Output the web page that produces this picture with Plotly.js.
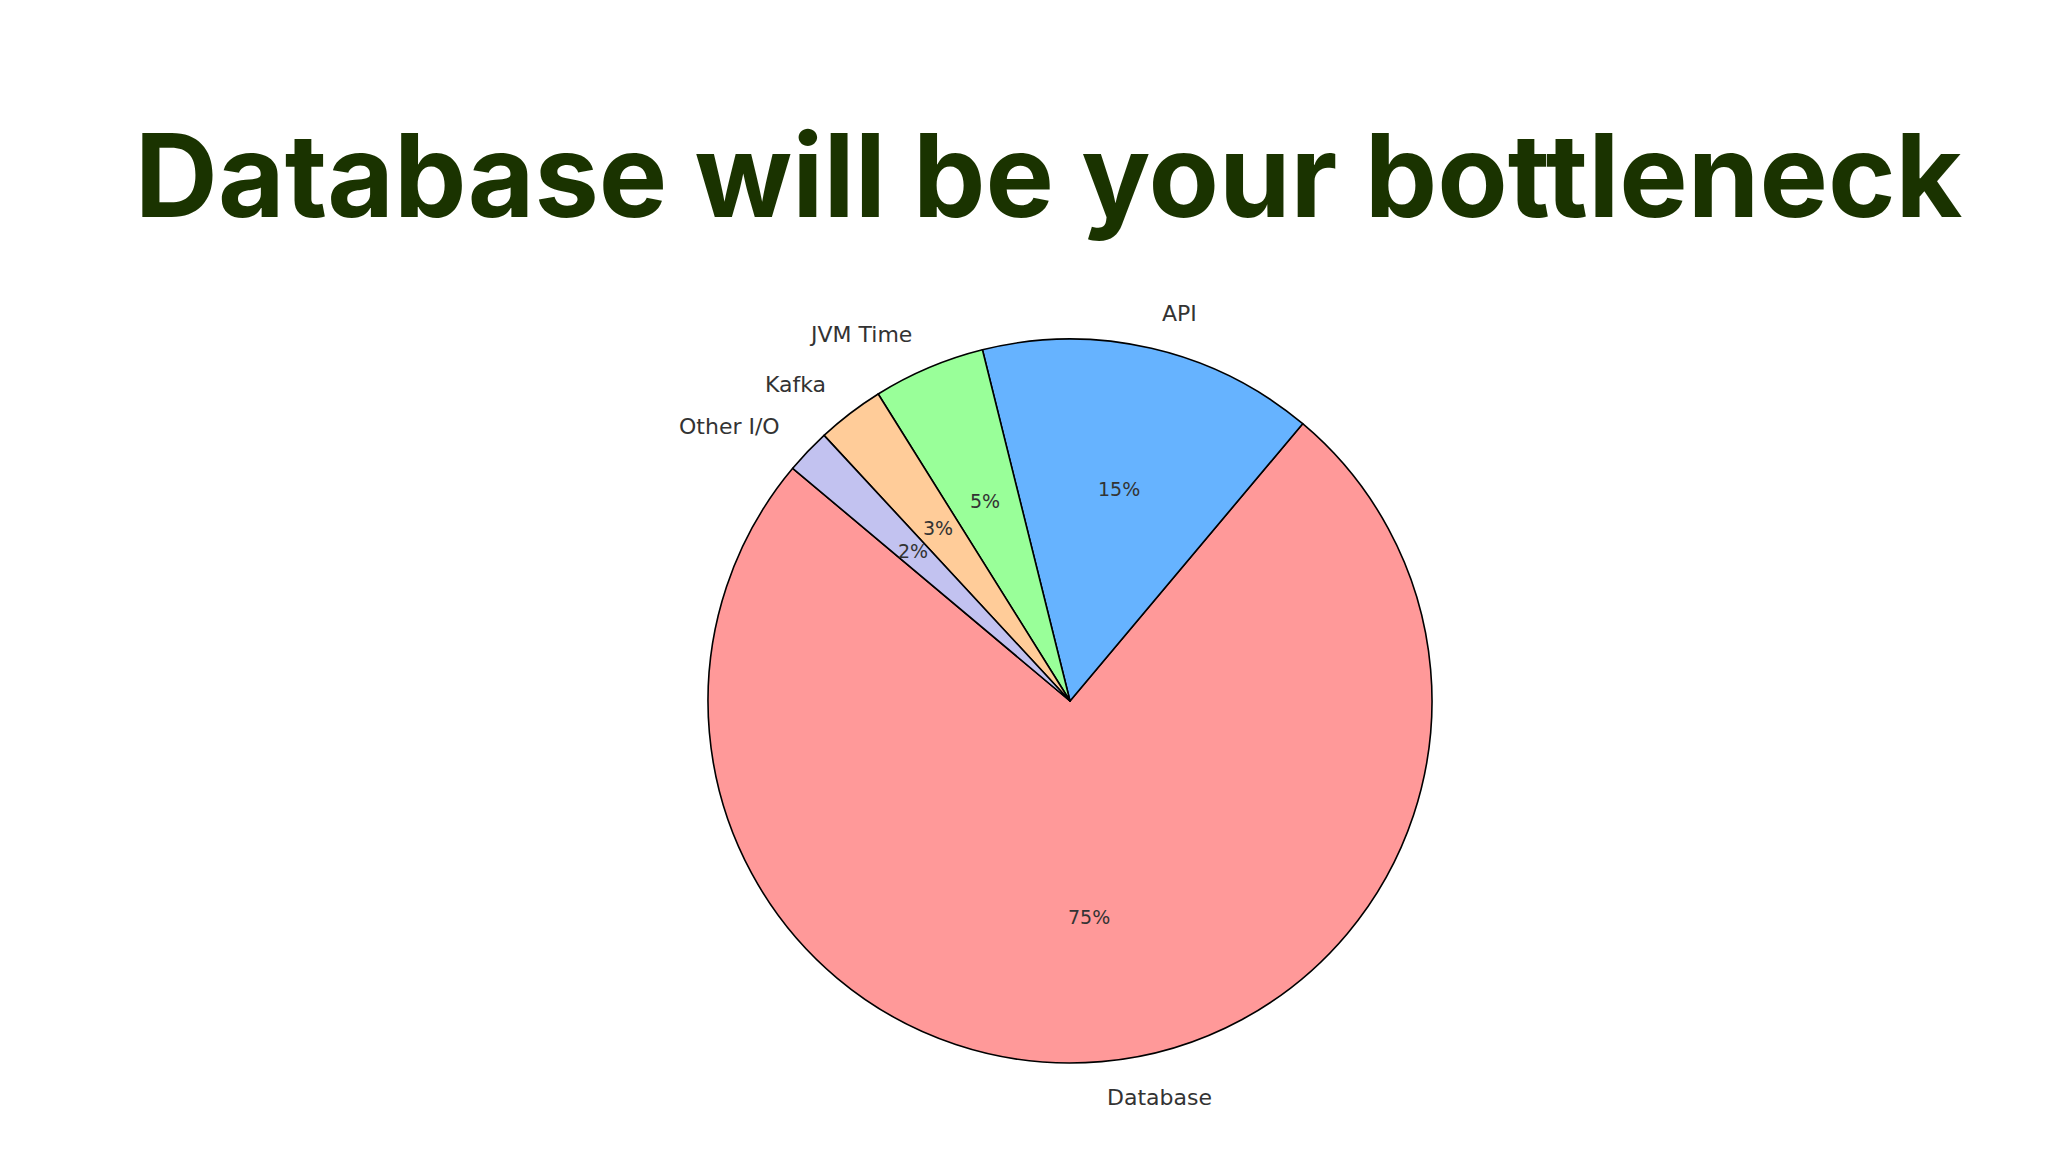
<!DOCTYPE html>
<html>
<head>
<meta charset="utf-8">
<script src="https://cdn.plot.ly/plotly-3.0.1.min.js"></script>
<style>html,body{margin:0;padding:0;background:#fff;}#chart{width:2048px;height:1152px;}</style>
</head>
<body>
<div id="chart"></div>
<script>
const categories = ["Database", "API", "JVM Time", "Kafka", "Other I/O"];
const shares = [75, 15, 5, 3, 2];
const pctLabels = ["75%", "15%", "5%", "3%", "2%"];
const sliceColors = ["#ff9999", "#66b3ff", "#99ff99", "#ffcc99", "#c2c2f0"];
const chartTitle = "Database will be your bottleneck";

const W = 2048, H = 1152;
const cx = 1070, cyTop = 701, R = 362;
const cyBottom = H - cyTop;
const startAngle = 140; // degrees, math convention, counterclockwise

const domainX = [(cx - R) / W, (cx + R) / W];
const domainY = [(cyBottom - R) / H, (cyBottom + R) / H];

const total = shares.reduce((a, b) => a + b, 0);
const annotations = [];
let cum = 0;
shares.forEach((v, i) => {
  const span = v / total * 360;
  const mid = (startAngle + cum + span / 2) * Math.PI / 180;
  cum += span;
  const c = Math.cos(mid), s = Math.sin(mid);
  annotations.push({
    xref: 'paper', yref: 'paper',
    x: (cx + 1.1 * R * c) / W, y: (cyBottom + 1.1 * R * s) / H,
    text: categories[i], showarrow: false,
    xanchor: c > 0 ? 'left' : 'right', yanchor: 'middle',
    font: {family: 'DejaVu Sans', size: 22, color: '#333333'}
  });
  annotations.push({
    xref: 'paper', yref: 'paper',
    x: (cx + 0.6 * R * c) / W, y: (cyBottom + 0.6 * R * s) / H,
    text: pctLabels[i], showarrow: false,
    xanchor: 'center', yanchor: 'middle',
    font: {family: 'DejaVu Sans', size: 19, color: '#333333'}
  });
});

// Plotly (counterclockwise) puts the end of the first slice at the rotation point
const firstEnd = (startAngle + shares[0] / total * 360) % 360;

const data = [{
  type: 'pie',
  labels: categories,
  values: shares,
  sort: false,
  direction: 'counterclockwise',
  rotation: 90 - firstEnd,
  marker: {colors: sliceColors, line: {color: '#000000', width: 1.6}},
  textinfo: 'none',
  hoverinfo: 'label+percent',
  showlegend: false,
  domain: {x: domainX, y: domainY}
}];

const layout = {
  width: W, height: H,
  margin: {l: 0, r: 0, t: 0, b: 0},
  paper_bgcolor: '#ffffff',
  showlegend: false,
  title: {
    text: '<b>' + chartTitle + '</b>',
    font: {family: 'Inter', size: 115, color: '#1a3300'},
    x: 0.512, xanchor: 'center',
    y: 0.847, yanchor: 'middle'
  },
  annotations: annotations
};

Plotly.newPlot('chart', data, layout, {displayModeBar: false, staticPlot: true});
</script>
</body>
</html>
